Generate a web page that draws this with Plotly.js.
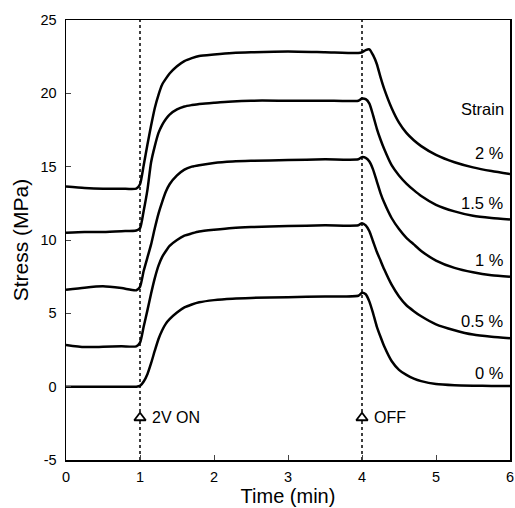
<!DOCTYPE html>
<html>
<head>
<meta charset="utf-8">
<script src="https://cdn.plot.ly/plotly-3.0.1.min.js"></script>
<style>html,body{margin:0;padding:0;background:#fff;}#chart{width:515px;height:508px;}</style>
</head>
<body>
<div id="chart"></div>
<script>
// Time (min)
var time = [0, 0.25, 0.5, 0.75, 0.95, 1.0, 1.05, 1.1, 1.15, 1.2, 1.25, 1.3, 1.35, 1.4, 1.5, 1.6, 1.7, 1.8, 2.0, 2.25, 2.5, 3.0, 3.5, 3.95, 4.0, 4.05, 4.1, 4.15, 4.2, 4.25, 4.3, 4.4, 4.5, 4.6, 4.7, 4.8, 5.0, 5.25, 5.5, 5.75, 6.0];
// Stress (MPa) for each strain level
var strain2  = [13.65, 13.55, 13.5, 13.5, 13.5, 13.8, 15.1, 16.5, 17.8, 19.0, 19.9, 20.6, 21.0, 21.35, 21.85, 22.2, 22.4, 22.55, 22.65, 22.75, 22.8, 22.85, 22.8, 22.75, 22.8, 22.95, 23.0, 22.6, 22.0, 21.1, 20.3, 19.0, 18.0, 17.3, 16.8, 16.4, 15.8, 15.3, 14.95, 14.7, 14.5];
var strain15 = [10.5, 10.55, 10.55, 10.6, 10.65, 10.8, 12.0, 13.4, 15.3, 16.4, 17.3, 17.85, 18.25, 18.55, 18.9, 19.1, 19.2, 19.28, 19.35, 19.45, 19.5, 19.5, 19.5, 19.5, 19.65, 19.6, 19.3, 18.5, 17.6, 16.85, 16.2, 15.1, 14.4, 13.85, 13.4, 13.0, 12.4, 11.95, 11.65, 11.5, 11.4];
var strain1  = [6.6, 6.75, 6.84, 6.72, 6.57, 6.8, 7.9, 8.8, 9.7, 10.8, 11.8, 12.6, 13.3, 13.8, 14.4, 14.8, 15.0, 15.1, 15.25, 15.35, 15.4, 15.45, 15.5, 15.5, 15.65, 15.6, 15.35, 14.8, 14.0, 13.2, 12.55, 11.5, 10.75, 10.15, 9.7, 9.25, 8.6, 8.1, 7.8, 7.6, 7.5];
var strain05 = [2.85, 2.7, 2.72, 2.75, 2.75, 3.0, 4.1, 5.2, 6.35, 7.4, 8.25, 8.85, 9.25, 9.6, 10.0, 10.3, 10.45, 10.58, 10.7, 10.82, 10.88, 10.95, 11.0, 11.0, 11.15, 11.0, 10.6, 9.9, 9.2, 8.6, 8.0, 6.95, 6.15, 5.55, 5.15, 4.8, 4.25, 3.85, 3.55, 3.4, 3.3];
var strain0  = [0, 0, 0, 0, 0, 0.05, 0.35, 0.85, 1.6, 2.45, 3.25, 3.85, 4.3, 4.6, 5.05, 5.4, 5.6, 5.75, 5.9, 6.0, 6.05, 6.1, 6.15, 6.2, 6.4, 6.3, 5.8, 5.0, 4.1, 3.4, 2.75, 1.75, 1.15, 0.8, 0.55, 0.38, 0.18, 0.1, 0.07, 0.05, 0.05];

var seriesValues = [strain2, strain15, strain1, strain05, strain0];
var seriesLabels = ["2 %", "1.5 %", "1 %", "0.5 %", "0 %"];
var labelY = [15.95, 12.5, 8.66, 4.5, 0.93];

// Axis ticks
var xTickVals = [0, 1, 2, 3, 4, 5, 6];
var xTickText = ["0", "1", "2", "3", "4", "5", "6"];
var yTickVals = [-5, 0, 5, 10, 15, 20, 25];
var yTickText = ["-5", "0", "5", "10", "15", "20", "25"];

// Events
var eventTimes = [1, 4];
var eventLabels = ["2V ON", "OFF"];
var eventY = -2.12;

var FONT = '"Liberation Sans", Arial, Helvetica, sans-serif';

var traces = seriesValues.map(function (v, i) {
  return {
    x: time, y: v, type: 'scatter', mode: 'lines', name: seriesLabels[i],
    line: {color: '#000', width: 2.5, shape: 'spline', smoothing: 0.6},
    hoverinfo: 'skip'
  };
});
traces.push({
  x: eventTimes, y: eventTimes.map(function () { return eventY; }),
  type: 'scatter', mode: 'markers',
  marker: {symbol: 'triangle-up', size: 10, color: '#fff', line: {width: 1.8, color: '#000'}},
  hoverinfo: 'skip'
});

var annotations = seriesLabels.map(function (s, i) {
  return {x: 5.94, y: labelY[i], xref: 'x', yref: 'y', text: s, showarrow: false,
          xanchor: 'right', yanchor: 'middle', font: {family: FONT, size: 16.5, color: '#000'}};
});
annotations.push({x: 5.94, y: 18.9, xref: 'x', yref: 'y', text: 'Strain', showarrow: false,
  xanchor: 'right', yanchor: 'middle', font: {family: FONT, size: 16.5, color: '#000'}});
eventTimes.forEach(function (t, i) {
  annotations.push({x: t + 0.13, y: eventY, xref: 'x', yref: 'y', text: eventLabels[i], showarrow: false,
    xanchor: 'left', yanchor: 'middle', font: {family: FONT, size: 16, color: '#000'}});
});

var shapes = eventTimes.map(function (t) {
  return {type: 'line', xref: 'x', yref: 'paper', x0: t, x1: t, y0: 0, y1: 1,
          line: {color: '#000', width: 1.5, dash: 'dot'}, layer: 'below'};
});

var layout = {
  width: 515, height: 508,
  margin: {l: 66, r: 5, t: 20, b: 48},
  paper_bgcolor: '#fff', plot_bgcolor: '#fff',
  showlegend: false,
  font: {family: FONT, color: '#000', size: 14},
  xaxis: {
    range: [0, 6], tickmode: 'array', tickvals: xTickVals, ticktext: xTickText,
    ticks: 'inside', ticklen: 5, tickwidth: 1,
    showline: true, mirror: true, linewidth: 1.5, linecolor: '#000',
    showgrid: false, zeroline: false, ticklabelstandoff: 3,
    tickfont: {family: FONT, size: 14.5, color: '#000'},
    title: {text: 'Time (min)', font: {family: FONT, size: 20, color: '#000'}, standoff: 4}
  },
  yaxis: {
    range: [-5, 25], tickmode: 'array', tickvals: yTickVals, ticktext: yTickText,
    ticks: 'inside', ticklen: 5, tickwidth: 1,
    showline: true, mirror: true, linewidth: 1.5, linecolor: '#000',
    showgrid: false, zeroline: false, ticklabelstandoff: 5,
    tickfont: {family: FONT, size: 14.5, color: '#000'},
    title: {text: 'Stress (MPa)', font: {family: FONT, size: 21, color: '#000'}, standoff: 6}
  },
  annotations: annotations,
  shapes: shapes
};

Plotly.newPlot('chart', traces, layout, {displayModeBar: false, staticPlot: true});
</script>
</body>
</html>
